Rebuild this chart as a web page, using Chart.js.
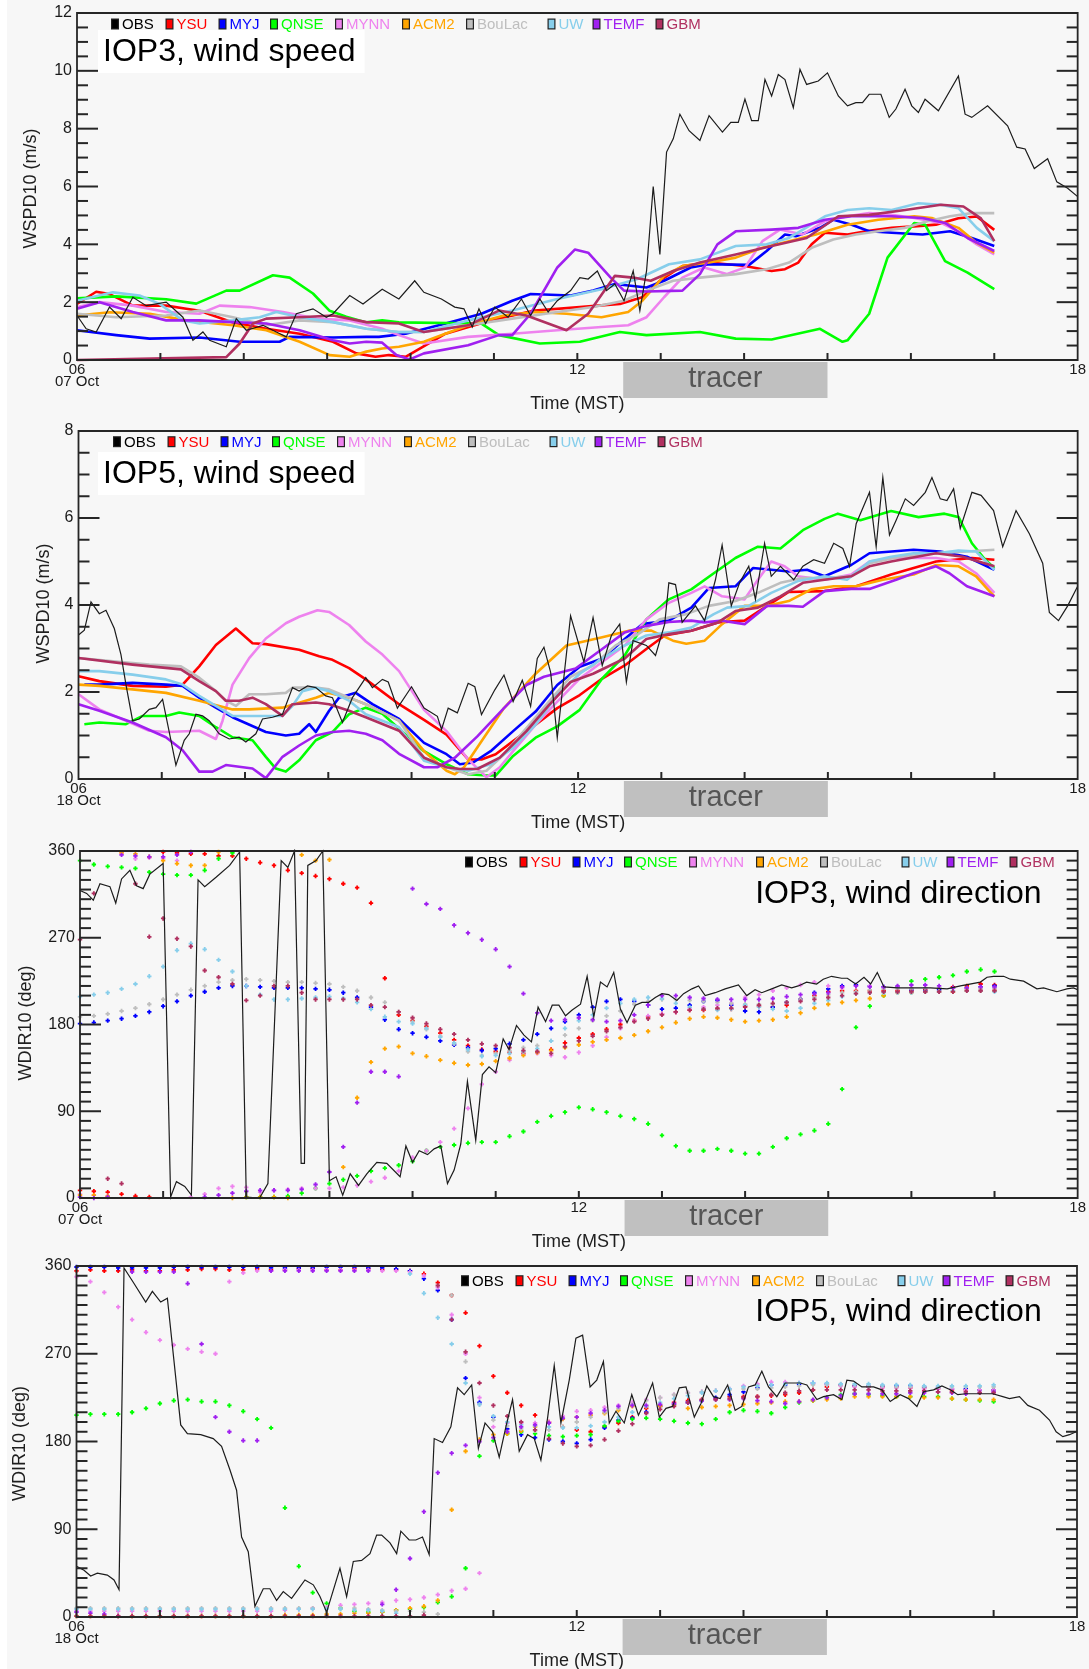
<!DOCTYPE html>
<html><head><meta charset="utf-8"><title>WRF PBL schemes vs OBS</title>
<script src="https://cdn.jsdelivr.net/npm/chart.js@4.4.1/dist/chart.umd.min.js"></script>
<style>
html,body{margin:0;padding:0;background:#f7f7f7}
body{width:1089px;height:1669px;position:relative;overflow:hidden}
#strip{position:absolute;left:0;top:0;width:7px;height:1669px;background:#fff}
canvas{position:absolute;left:0}
</style></head><body>
<div id="strip"></div>
<canvas id="c1" width="1089" height="418" style="top:0px"></canvas>
<canvas id="c2" width="1089" height="420" style="top:418px"></canvas>
<canvas id="c3" width="1089" height="414" style="top:838px"></canvas>
<canvas id="c4" width="1089" height="417" style="top:1252px"></canvas>
<script>
// ---------- series meta ----------
const seriesNames = ['OBS','YSU','MYJ','QNSE','MYNN','ACM2','BouLac','UW','TEMF','GBM'];
const seriesColors = ['#000000','#ff0000','#0000ff','#00ff00','#ee82ee','#ffa500','#bebebe','#87ceeb','#a020f0','#b03060'];
const hourTicks = [6,12,18];
const tracerWindow = [12.55, 15.0];
const dotStartHour = 6, dotStepHours = 1/6;   // model dots every 10 min

// ---------- IOP3 wind speed (hour, m/s) ----------
const p1Obs = [[6,1.54],[6.11,1.08],[6.23,0.97],[6.39,1.83],[6.53,1.43],[6.67,2.17],[6.83,1.88],[7.07,2.0],[7.27,1.48],[7.39,0.68],[7.51,0.97],[7.59,0.68],[7.79,0.46],[7.91,1.43],[8.03,1.03],[8.23,1.2],[8.39,0.97],[8.51,0.8],[8.63,1.6],[8.83,1.77],[8.99,1.48],[9.07,1.6],[9.27,2.23],[9.43,1.94],[9.66,2.45],[9.86,2.11],[10.05,2.74],[10.16,2.34],[10.37,2.11],[10.53,1.83],[10.64,1.77],[10.74,1.14],[10.82,1.77],[10.9,1.26],[11.01,1.83],[11.17,1.48],[11.33,2.11],[11.44,1.54],[11.55,2.11],[11.65,1.66],[11.76,2.05],[11.92,2.4],[12.03,2.85],[12.13,2.8],[12.24,3.08],[12.35,2.4],[12.45,2.63],[12.56,2.05],[12.67,3.08],[12.75,1.71],[12.83,3.08],[12.91,6.0],[12.99,3.65],[13.07,7.19],[13.15,7.65],[13.23,8.5],[13.34,7.93],[13.47,7.59],[13.58,8.45],[13.74,7.88],[13.84,8.22],[13.93,8.22],[14.01,9.02],[14.09,8.28],[14.17,8.28],[14.25,9.7],[14.33,9.13],[14.41,9.87],[14.49,9.7],[14.59,8.73],[14.67,10.05],[14.75,9.53],[14.89,9.65],[15.0,9.93],[15.13,9.13],[15.24,8.79],[15.34,8.9],[15.42,8.9],[15.5,9.19],[15.64,9.19],[15.74,8.39],[15.82,8.68],[15.93,9.36],[16.01,8.79],[16.09,8.56],[16.17,9.02],[16.33,8.62],[16.57,9.82],[16.65,8.5],[16.73,8.39],[16.92,8.79],[17.16,8.1],[17.27,7.36],[17.37,7.3],[17.48,6.62],[17.64,6.96],[17.75,6.16],[17.88,5.94],[18.0,5.65]];
const p1Ysu = [[6,1.94],[6.23,2.36],[6.39,2.28],[6.67,1.88],[7.07,1.88],[7.31,1.77],[7.47,1.7],[7.87,1.3],[8.27,1.08],[8.67,0.91],[9.07,0.63],[9.35,0.23],[9.58,0.11],[9.74,0.17],[9.94,0.11],[10.42,0.91],[10.96,1.37],[11.49,1.71],[12.03,1.83],[12.51,1.94],[12.78,2.17],[12.99,2.74],[13.26,3.25],[13.58,3.37],[14.01,3.25],[14.33,3.08],[14.49,3.14],[14.65,3.37],[14.81,4.0],[14.97,4.4],[15.24,4.34],[15.5,4.47],[15.77,4.57],[16.04,4.62],[16.3,4.68],[16.57,4.9],[16.79,4.96],[17,4.5]];
const p1Myj = [[6,1.03],[6.47,0.86],[6.87,0.74],[7.47,0.78],[7.95,0.63],[8.43,0.63],[8.55,0.8],[9.07,0.78],[9.47,0.8],[9.62,0.8],[9.94,0.91],[10.42,1.26],[10.85,1.6],[11.22,2.05],[11.44,2.28],[11.92,2.23],[12.19,2.4],[12.45,2.63],[12.83,2.51],[13.04,2.74],[13.36,3.2],[13.58,3.31],[14.06,3.29],[14.27,3.77],[14.49,4.34],[14.62,4.28],[14.91,4.57],[15.07,4.85],[15.29,4.68],[15.5,4.45],[15.77,4.4],[16.14,4.34],[16.47,4.45],[16.73,4.22],[17,3.94]];
const p1Qnse = [[6,2.13],[6.47,2.2],[7.07,2.1],[7.43,1.95],[7.79,2.4],[7.95,2.4],[8.35,2.93],[8.55,2.85],[8.83,2.3],[9.03,1.7],[9.23,1.5],[9.47,1.3],[9.66,1.37],[9.86,1.3],[10.85,1.26],[11.06,0.86],[11.55,0.57],[12.03,0.63],[12.51,0.97],[12.83,0.86],[13.47,0.97],[13.9,0.74],[14.33,0.71],[14.91,1.08],[15.18,0.63],[15.24,0.68],[15.5,1.6],[15.72,3.54],[16.04,4.74],[16.17,4.68],[16.41,3.42],[16.68,3.02],[17,2.45]];
const p1Mynn = [[6,1.83],[6.27,2.0],[6.67,1.88],[7.07,1.66],[7.47,1.6],[7.71,1.88],[8.07,1.83],[8.47,1.66],[8.87,1.43],[9.27,1.37],[9.66,1.08],[9.86,0.86],[10.16,0.57],[10.69,0.8],[11.22,0.91],[11.76,1.03],[12.29,1.14],[12.61,1.2],[12.83,1.48],[13.04,2.17],[13.26,2.85],[13.52,3.2],[13.79,2.97],[14.01,3.2],[14.22,4.11],[14.43,4.51],[14.7,4.34],[14.97,4.8],[15.24,4.97],[15.5,5.08],[15.77,5.02],[16.04,4.91],[16.36,4.74],[16.57,4.45],[16.79,4.0],[17,3.65]];
const p1Acm2 = [[6,1.54],[6.39,1.65],[6.87,1.6],[7.31,1.37],[7.87,1.2],[8.27,1.03],[8.67,0.63],[9.03,0.17],[9.27,0.11],[9.47,0.29],[9.66,0.4],[9.86,0.46],[10.16,0.63],[10.69,1.2],[11.12,1.54],[11.49,1.66],[11.87,1.6],[12.29,1.48],[12.61,1.66],[12.78,2.05],[13.04,2.91],[13.26,3.25],[13.58,3.37],[13.9,3.54],[14.22,3.88],[14.54,4.11],[14.86,4.34],[15.24,4.68],[15.61,4.85],[16.04,4.97],[16.25,4.91],[16.57,4.57],[16.79,4.05],[17,3.71]];
const p1BouLac = [[6,1.6],[6.47,1.48],[7.07,1.54],[7.47,1.71],[7.87,1.48],[8.27,1.2],[8.67,1.37],[9.07,1.31],[9.47,1.08],[9.86,0.97],[10.16,0.97],[10.69,1.2],[11.22,1.43],[11.76,1.66],[12.19,1.83],[12.56,2.05],[12.83,2.4],[13.15,2.74],[13.47,2.85],[13.9,2.97],[14.27,3.14],[14.54,3.37],[14.81,3.88],[15.07,4.17],[15.34,4.34],[15.61,4.45],[15.93,4.57],[16.2,4.8],[16.47,4.97],[16.73,5.08],[17,5.08]];
const p1Uw = [[6,2.05],[6.43,2.34],[6.75,2.23],[6.99,1.94],[7.27,1.37],[7.47,1.26],[7.87,1.37],[8.19,1.48],[8.39,1.66],[8.67,1.48],[9.07,1.31],[9.47,1.08],[9.86,0.97],[10.16,0.97],[10.69,1.37],[11.22,1.71],[11.76,2.11],[12.29,2.45],[12.72,2.8],[13.1,3.31],[13.47,3.48],[13.9,3.94],[14.27,4.0],[14.54,4.22],[14.97,4.97],[15.24,5.19],[15.5,5.25],[15.77,5.19],[16.09,5.42],[16.36,5.37],[16.57,5.25],[16.79,4.57],[17,4.11]];
const p1Temf = [[6,1.77],[6.27,2.0],[6.67,1.66],[7.07,1.37],[7.47,1.37],[7.87,1.31],[8.27,1.26],[8.67,1.03],[9.07,0.68],[9.27,0.57],[9.47,0.63],[9.66,0.6],[9.83,0.17],[9.99,0.02],[10.16,0.23],[10.69,0.51],[11.06,0.86],[11.22,0.86],[11.44,1.6],[11.76,3.2],[11.97,3.82],[12.13,3.71],[12.4,2.85],[12.56,2.4],[12.83,2.37],[13.26,2.4],[13.47,2.97],[13.68,4.0],[13.9,4.45],[14.33,4.51],[14.65,4.57],[14.97,4.85],[15.29,4.97],[15.77,4.97],[16.14,4.91],[16.41,4.74],[16.68,4.22],[17,3.77]];
const p1Gbm = [[6,0],[7.79,0.1],[7.95,0.57],[8.11,1.26],[8.27,1.43],[8.67,1.48],[9.07,1.54],[9.47,1.31],[9.86,1.26],[10.16,0.97],[10.69,1.2],[11.06,1.71],[11.39,1.54],[11.87,1.03],[12.13,1.6],[12.45,2.91],[12.67,2.85],[12.88,2.74],[13.15,3.08],[13.47,3.37],[13.9,3.65],[14.33,3.94],[14.75,4.22],[15.13,4.97],[15.5,5.02],[15.93,5.19],[16.36,5.37],[16.63,5.31],[16.84,4.9],[17,4.11]];

// ---------- IOP5 wind speed (hour, m/s) ----------
const p2Obs = [[6,3.31],[6.07,3.42],[6.15,4.07],[6.25,3.8],[6.33,3.88],[6.43,3.46],[6.51,2.86],[6.57,2.17],[6.65,1.34],[6.73,1.38],[6.85,1.6],[6.93,1.64],[7.01,1.83],[7.09,1.08],[7.17,0.32],[7.27,0.89],[7.33,1.04],[7.41,1.49],[7.49,1.45],[7.57,1.34],[7.69,1.04],[7.81,0.92],[7.93,0.96],[8.01,0.85],[8.13,1.04],[8.21,1.38],[8.33,1.42],[8.45,1.49],[8.57,2.1],[8.65,2.02],[8.75,2.14],[8.85,2.1],[8.97,1.91],[9.05,1.87],[9.17,1.3],[9.29,1.87],[9.37,2.1],[9.45,2.33],[9.53,2.1],[9.65,2.29],[9.72,2.23],[9.83,1.63],[10.0,2.12],[10.15,1.63],[10.31,1.44],[10.36,1.14],[10.44,1.63],[10.55,1.52],[10.68,2.2],[10.76,2.12],[10.84,1.48],[11.0,2.05],[11.11,2.39],[11.22,1.78],[11.33,2.27],[11.43,1.67],[11.51,2.77],[11.59,3.03],[11.67,2.46],[11.75,0.95],[11.91,3.75],[12.07,2.69],[12.18,3.71],[12.29,2.61],[12.4,3.3],[12.5,3.56],[12.58,2.23],[12.66,3.18],[12.82,3.07],[12.93,2.84],[13.04,3.56],[13.09,4.51],[13.17,4.47],[13.25,3.6],[13.41,3.98],[13.52,3.64],[13.65,4.58],[13.73,5.38],[13.84,3.98],[13.94,4.51],[14.05,4.89],[14.13,4.13],[14.24,5.42],[14.32,4.66],[14.43,4.89],[14.59,4.58],[14.7,4.89],[14.83,5.04],[14.96,4.96],[15.07,5.42],[15.18,5.3],[15.26,4.89],[15.34,5.87],[15.5,6.59],[15.58,5.34],[15.66,6.93],[15.74,5.61],[15.82,5.95],[15.93,6.44],[16.03,6.29],[16.17,6.59],[16.25,6.93],[16.35,6.44],[16.43,6.4],[16.51,6.67],[16.59,5.76],[16.73,6.59],[16.84,6.52],[16.99,6.17],[17.1,5.34],[17.26,6.17],[17.42,5.64],[17.58,4.96],[17.66,3.83],[17.77,3.64],[17.88,3.98],[18,4.43]];
const p2Ysu = [[6,2.36],[6.25,2.25],[6.65,2.14],[7.05,2.12],[7.25,2.17],[7.45,2.59],[7.65,3.08],[7.89,3.46],[8.09,3.12],[8.25,3.1],[8.65,2.97],[8.89,2.82],[9.05,2.74],[9.25,2.55],[9.45,2.29],[9.85,1.72],[10.15,1.36],[10.42,1.02],[10.68,0.45],[10.84,0.45],[11.01,0.57],[11.22,0.87],[11.49,1.25],[11.75,1.63],[12.02,1.93],[12.29,2.31],[12.56,2.61],[12.82,2.99],[13.04,3.3],[13.36,3.41],[13.68,3.6],[14.0,3.64],[14.27,3.98],[14.53,4.3],[14.96,4.32],[15.34,4.43],[15.76,4.7],[16.3,5.0],[16.73,5.08],[17,5.04]];
const p2Myj = [[6.07,2.17],[6.25,2.17],[6.65,2.21],[7.05,2.17],[7.25,2.14],[7.45,1.87],[7.65,1.64],[7.85,1.42],[8.25,1.08],[8.49,1.0],[8.65,1.04],[8.77,1.26],[8.85,1.08],[9.01,1.57],[9.13,1.87],[9.33,1.98],[9.53,1.72],[9.85,1.38],[10.15,0.83],[10.42,0.57],[10.58,0.34],[10.74,0.38],[10.95,0.64],[11.22,1.1],[11.49,1.55],[11.75,2.16],[12.02,2.58],[12.29,2.77],[12.56,3.22],[12.77,3.56],[13.09,3.64],[13.36,3.94],[13.57,4.39],[13.89,4.43],[14.1,4.85],[14.32,4.81],[14.53,4.77],[14.75,4.81],[14.96,4.66],[15.28,4.92],[15.5,5.19],[16.03,5.27],[16.35,5.23],[16.67,5.11],[17,4.81]];
const p2Qnse = [[6.07,1.26],[6.25,1.3],[6.57,1.26],[6.77,1.45],[7.05,1.45],[7.21,1.53],[7.45,1.45],[7.65,1.19],[7.85,0.96],[8.09,0.89],[8.25,0.51],[8.37,0.24],[8.49,0.17],[8.65,0.43],[8.85,0.89],[9.05,1.08],[9.25,1.49],[9.45,1.64],[9.65,1.5],[10.15,0.64],[10.42,0.34],[10.68,0.11],[10.9,0.08],[11.01,0.08],[11.22,0.53],[11.49,0.95],[11.75,1.21],[12.02,1.59],[12.29,2.31],[12.56,2.84],[12.82,3.67],[13.09,4.13],[13.36,4.36],[13.63,4.73],[13.89,5.08],[14.16,5.34],[14.43,5.3],[14.7,5.72],[14.96,5.98],[15.12,6.1],[15.39,5.95],[15.76,6.16],[16.09,6.02],[16.4,6.1],[16.57,6.02],[16.73,5.42],[16.89,5.04],[17,4.85]];
const p2Mynn = [[6,1.95],[6.25,1.6],[6.57,1.34],[6.85,1.11],[7.05,1.08],[7.45,1.11],[7.65,0.92],[7.73,1.34],[7.85,2.17],[8.05,2.78],[8.25,3.23],[8.49,3.58],[8.65,3.73],[8.87,3.88],[9.01,3.84],[9.25,3.54],[9.45,3.16],[9.65,2.86],[9.85,2.48],[10.15,1.59],[10.42,1.1],[10.68,0.45],[10.9,0.04],[11.06,0.27],[11.22,0.64],[11.49,1.25],[11.75,1.78],[12.02,2.31],[12.29,2.69],[12.56,3.07],[12.82,3.67],[13.09,4.05],[13.36,4.28],[13.52,4.43],[13.73,4.2],[14.0,4.13],[14.16,4.58],[14.32,5.0],[14.48,4.89],[14.64,4.66],[14.96,4.58],[15.28,4.7],[15.5,5.0],[15.76,5.08],[16.3,5.08],[16.57,5.0],[16.78,4.73],[17,4.28]];
const p2Acm2 = [[6,2.17],[6.25,2.14],[6.65,2.06],[7.05,1.98],[7.45,1.8],[7.85,1.6],[8.05,1.6],[8.45,1.64],[8.85,1.87],[9.01,1.98],[9.25,1.87],[9.45,1.72],[9.85,1.34],[10.15,0.64],[10.42,0.19],[10.52,0.11],[10.63,0.27],[10.84,0.87],[11.11,1.63],[11.49,2.42],[11.86,3.07],[12.29,3.26],[12.61,3.41],[12.88,3.41],[13.14,3.18],[13.3,3.11],[13.52,3.18],[13.73,3.56],[14.0,3.98],[14.27,3.98],[14.53,4.09],[14.8,4.36],[15.07,4.43],[15.34,4.43],[15.66,4.58],[16.03,4.7],[16.3,4.92],[16.57,4.89],[16.78,4.66],[16.94,4.32],[17,4.2]];
const p2BouLac = [[6,2.78],[6.45,2.7],[6.85,2.63],[7.23,2.59],[7.45,2.33],[7.65,2.02],[7.77,1.8],[7.89,1.68],[8.05,1.95],[8.25,1.95],[8.49,1.98],[8.57,2.1],[8.85,2.1],[9.01,2.06],[9.25,1.87],[9.45,1.72],[9.85,1.34],[10.15,0.49],[10.42,0.27],[10.68,0.11],[10.9,0.19],[11.11,0.57],[11.38,1.17],[11.65,1.78],[11.91,2.35],[12.18,2.61],[12.45,3.07],[12.72,3.33],[12.98,3.67],[13.3,3.79],[13.57,3.98],[13.89,4.09],[14.16,4.28],[14.43,4.51],[14.7,4.62],[14.96,4.62],[15.28,4.66],[15.5,4.96],[15.87,5.11],[16.3,5.19],[16.67,5.23],[17,5.27]];
const p2Uw = [[6,2.48],[6.25,2.48],[6.65,2.4],[7.05,2.29],[7.25,2.17],[7.45,1.91],[7.65,1.68],[7.85,1.45],[8.05,1.45],[8.45,1.45],[8.57,1.68],[8.69,2.02],[8.85,2.1],[9.01,2.02],[9.25,1.8],[9.45,1.49],[9.85,1.19],[10.15,0.42],[10.42,0.27],[10.68,0.19],[10.95,0.34],[11.22,0.72],[11.49,1.25],[11.75,1.93],[12.02,2.42],[12.29,2.77],[12.56,3.07],[12.82,3.3],[13.09,3.37],[13.36,3.48],[13.63,3.79],[13.79,3.94],[14.05,3.98],[14.32,4.28],[14.64,4.55],[14.96,4.66],[15.23,4.58],[15.5,5.0],[15.76,5.11],[16.03,5.19],[16.3,5.19],[16.57,5.25],[16.78,5.23],[17,4.81]];
const p2Temf = [[6,1.72],[6.25,1.57],[6.65,1.3],[7.05,0.96],[7.25,0.66],[7.45,0.17],[7.61,0.17],[7.77,0.32],[7.93,0.28],[8.09,0.24],[8.25,0.02],[8.45,0.51],[8.65,0.77],[8.85,1.0],[9.05,1.08],[9.25,1.11],[9.45,1.04],[9.65,0.89],[9.85,0.58],[10.15,0.27],[10.31,0.27],[10.52,0.49],[10.79,0.98],[11.11,1.63],[11.38,2.16],[11.59,2.35],[11.97,2.54],[12.29,2.99],[12.56,3.37],[12.82,3.52],[13.09,3.61],[13.36,3.64],[13.52,3.6],[13.73,3.64],[14.0,3.56],[14.27,3.98],[14.53,3.98],[14.7,3.96],[14.96,4.32],[15.28,4.37],[15.5,4.37],[15.82,4.58],[16.03,4.73],[16.3,4.89],[16.46,4.73],[16.67,4.43],[17,4.2]];
const p2Gbm = [[6,2.78],[6.65,2.63],[7.23,2.52],[7.45,2.25],[7.65,2.02],[7.77,1.8],[7.93,1.8],[8.09,1.87],[8.25,1.72],[8.45,1.45],[8.57,1.72],[8.85,1.76],[9.01,1.72],[9.25,1.57],[9.45,1.42],[9.85,1.11],[10.15,0.49],[10.42,0.27],[10.58,0.23],[10.79,0.23],[11.06,0.49],[11.38,1.1],[11.65,1.7],[11.91,2.23],[12.18,2.42],[12.56,2.77],[12.82,3.22],[13.09,3.33],[13.36,3.41],[13.68,3.6],[13.89,3.86],[14.16,3.94],[14.43,4.2],[14.7,4.51],[14.96,4.58],[15.28,4.66],[15.5,4.89],[15.76,5.0],[16.3,5.19],[16.62,5.11],[17,4.89]];

// ---------- IOP3 wind direction: OBS (hour, deg), models every 10 min from 06:00 ----------
const p3Obs = [[6.0,319],[6.08,316],[6.16,309],[6.24,326],[6.36,323],[6.43,306],[6.5,331],[6.6,340],[6.68,324],[6.76,321],[6.84,336],[7.0,347],[7.09,1],[7.16,17],[7.26,12],[7.34,3],[7.42,330],[7.5,323],[7.64,333],[7.8,345],[7.92,359],[8.0,1],[8.16,0],[8.26,15],[8.42,350],[8.5,343],[8.58,360],[8.66,36],[8.7,36],[8.74,345],[8.84,350],[8.92,360],[9.0,18],[9.08,22],[9.16,3],[9.25,25],[9.35,13],[9.45,25],[9.57,37],[9.69,36],[9.85,22],[9.92,54],[10.0,37],[10.08,49],[10.18,45],[10.26,51],[10.34,54],[10.42,15],[10.5,29],[10.58,56],[10.66,121],[10.76,60],[10.84,128],[10.92,136],[11.0,130],[11.09,165],[11.16,154],[11.25,179],[11.34,169],[11.43,162],[11.51,198],[11.6,183],[11.68,200],[11.76,200],[11.84,189],[11.92,195],[12.02,201],[12.1,230],[12.18,188],[12.26,224],[12.34,219],[12.42,234],[12.5,196],[12.58,182],[12.68,200],[12.76,203],[12.84,203],[12.92,208],[13.0,212],[13.08,211],[13.18,205],[13.26,212],[13.36,217],[13.44,220],[13.52,210],[13.64,213],[13.76,217],[13.92,221],[14.02,210],[14.12,216],[14.2,213],[14.32,217],[14.44,221],[14.56,218],[14.64,220],[14.74,224],[14.86,222],[14.94,227],[15.04,230],[15.16,228],[15.23,228],[15.33,222],[15.43,229],[15.51,222],[15.59,234],[15.67,219],[15.83,218],[16.03,218],[16.23,218],[16.43,217],[16.59,220],[16.83,224],[16.91,229],[16.99,230],[17.11,230],[17.19,227],[17.35,225],[17.51,217],[17.59,218],[17.75,214],[17.87,217],[17.95,218],[18.0,216]];
const p3Ysu = [8,7,6,4,2,1,359,358,357,357,355,355,352,348,345,340,337,334,331,326,322,306,228,190,184,178,171,164,158,154,152,151,150,151,154,161,166,170,175,180,184,188,191,193,195,195,196,196,199,199,198,200,206,210,214,215,215,215,215,215,215,216,217,219,220,222,221];
const p3Myj = [181,182,184,186,189,193,199,204,210,214,218,220,220,219,218,218,218,217,216,213,208,198,185,175,171,167,163,159,156,153,155,160,164,170,176,183,190,198,204,206,204,200,196,197,200,204,205,200,194,193,198,203,206,213,217,220,221,220,219,219,216,215,216,218,218,219,220];
const p3Qnse = [350,346,344,343,342,338,336,335,335,340,352,358,1,1,1,2,5,10,15,19,23,28,31,34,38,49,53,55,57,58,58,64,69,79,85,89,94,92,89,85,82,77,65,54,49,49,51,49,46,46,53,62,66,70,77,113,177,199,210,219,225,227,229,231,235,237,235];
const p3Mynn = [4,3,2,358,352,353,352,350,1,4,10,12,11,6,8,9,10,10,10,11,13,17,21,28,42,49,58,72,93,118,131,143,149,150,148,146,151,158,167,176,184,189,191,193,196,198,200,202,208,211,215,218,221,224,220,218,220,220,218,219,218,218,218,218,217,217,217];
const p3Acm2 = [3,3,2,358,357,354,350,347,345,345,359,0,1,1,1,0,356,350,351,32,104,141,155,157,150,147,143,140,138,139,142,145,148,151,153,156,159,162,164,166,169,173,177,182,186,188,187,185,183,184,185,188,192,197,201,203,205,207,210,213,213,214,214,214,215,215,215];
const p3BouLac = [188,189,191,194,197,201,206,211,216,220,224,226,227,226,225,224,224,223,222,219,215,208,203,193,183,175,168,160,152,148,150,153,156,158,163,169,176,184,189,194,201,204,206,206,205,204,203,202,201,201,201,203,206,208,211,213,214,216,217,217,217,218,218,218,218,218,218];
const p3Uw = [209,211,213,217,222,230,240,257,264,258,247,235,220,211,206,206,207,208,209,207,203,196,188,183,181,176,167,161,154,147,148,150,152,155,163,176,184,190,197,202,206,208,207,202,198,196,195,196,200,198,196,194,197,202,205,209,212,213,213,213,213,214,214,215,215,215,214];
const p3Temf = [1,0,1,356,355,354,354,356,359,1,3,5,7,8,8,8,9,14,27,53,99,131,131,126,321,305,300,283,275,268,258,240,212,192,184,185,187,185,183,184,190,200,210,210,208,207,206,206,206,206,207,209,211,212,213,219,220,219,219,220,221,221,220,218,218,219,219];
const p3Gbm = [268,316,20,15,326,271,290,269,261,236,229,222,205,210,220,220,213,206,206,206,206,200,198,193,187,181,175,170,164,160,158,156,153,152,150,157,163,168,173,177,183,186,190,193,195,196,197,197,198,200,202,203,204,206,208,210,212,213,214,214,214,214,214,214,215,215,215];

// ---------- IOP5 wind direction ----------
const p4Obs = [[6.0,52],[6.09,48],[6.17,42],[6.25,45],[6.37,43],[6.45,38],[6.51,28],[6.57,358],[6.69,342],[6.83,323],[6.91,334],[7.01,323],[7.09,327],[7.25,197],[7.33,188],[7.49,187],[7.64,183],[7.74,175],[7.84,151],[7.92,130],[7.98,82],[8.06,67],[8.14,11],[8.24,29],[8.32,29],[8.4,17],[8.48,26],[8.58,19],[8.74,38],[8.84,33],[8.92,21],[9.0,5],[9.16,50],[9.24,21],[9.32,57],[9.42,58],[9.52,65],[9.6,84],[9.66,84],[9.76,76],[9.84,65],[9.89,88],[9.99,79],[10.07,79],[10.15,82],[10.23,64],[10.29,183],[10.39,179],[10.49,195],[10.57,235],[10.65,228],[10.74,238],[10.82,173],[10.9,199],[10.99,190],[11.07,164],[11.15,195],[11.23,223],[11.31,170],[11.41,187],[11.49,183],[11.57,161],[11.65,204],[11.73,258],[11.81,199],[11.91,243],[11.99,286],[12.07,289],[12.16,236],[12.24,243],[12.32,262],[12.39,199],[12.47,211],[12.57,199],[12.66,228],[12.74,207],[12.83,223],[12.91,240],[12.99,205],[13.07,214],[13.15,216],[13.23,235],[13.31,236],[13.41,205],[13.49,219],[13.56,237],[13.64,226],[13.72,224],[13.81,238],[13.9,212],[13.98,216],[14.06,236],[14.14,238],[14.22,252],[14.3,236],[14.4,226],[14.5,240],[14.58,240],[14.68,240],[14.76,238],[14.88,223],[14.96,226],[15.08,228],[15.18,223],[15.24,243],[15.32,242],[15.42,236],[15.56,236],[15.66,233],[15.76,221],[15.88,228],[15.98,224],[16.08,216],[16.16,231],[16.28,233],[16.38,237],[16.48,233],[16.57,228],[16.67,229],[16.87,229],[16.99,229],[17.11,226],[17.19,224],[17.31,226],[17.41,217],[17.55,212],[17.67,202],[17.75,190],[17.83,185],[17.91,187],[17.99,190]];
const p4Ysu = [355,356,355,355,356,355,355,356,356,357,357,356,356,357,356,356,357,357,356,356,357,357,356,356,355,352,343,330,312,278,247,230,217,207,200,195,192,190,195,199,205,214,217,220,222,223,224,226,226,226,227,228,230,233,236,238,237,236,236,236,235,235,234,233,233,233,233];
const p4Myj = [359,359,359,358,358,358,358,359,359,359,359,359,359,359,358,358,358,358,359,359,359,358,358,357,355,347,335,305,245,220,205,193,187,184,182,180,178,182,194,202,204,210,216,218,220,222,225,228,231,235,238,238,239,240,239,238,237,237,237,237,237,236,235,234,234,233,233];
const p4Qnse = [207,208,208,208,210,214,219,222,223,221,221,217,211,203,194,112,52,25,14,9,6,5,5,7,8,10,15,21,50,165,181,188,190,188,186,185,186,187,196,201,203,204,203,201,199,198,203,210,212,211,209,215,220,222,225,228,229,228,227,226,226,226,226,224,223,222,221];
const p4Mynn = [349,344,333,318,305,292,284,279,275,272,270,344,353,355,355,356,356,356,356,356,356,356,355,355,354,350,338,310,270,225,195,199,199,199,200,206,211,212,215,217,220,223,225,228,230,231,232,234,237,239,241,241,240,239,238,237,236,236,235,235,235,234,234,234,233,233,233];
const p4MynnLow = [6,6,6,6,6,6,6,6,6,6,6,6,6,6,6,7,8,9,10,12,13,14,15,17,18,20,23,27,29,45];
const p4Acm2 = [1,1,1,1,1,1,1,1,1,1,1,1,1,1,1,2,2,2,3,3,4,4,5,7,9,11,17,110,170,182,187,188,191,195,199,203,205,207,209,212,216,216,216,217,214,215,216,217,218,219,220,221,221,222,223,224,226,226,226,226,226,225,225,224,223,223,223];
const p4BouLac = [9,9,9,9,9,9,9,9,9,9,9,9,9,9,9,9,9,9,9,9,9,8,7,6,6,5,3,330,262,218,202,196,193,191,192,195,200,205,210,214,218,222,225,228,230,231,232,233,234,234,235,236,237,238,238,238,238,237,237,236,236,236,236,236,236,236,236];
const p4Uw = [8,8,8,8,8,8,8,8,8,8,8,8,8,8,8,8,8,8,8,8,7,7,6,4,352,332,307,280,240,218,206,200,197,196,195,194,194,196,200,205,210,216,220,224,227,230,232,234,236,237,238,239,240,240,240,239,239,239,238,238,238,237,237,237,237,237,238];
const p4Temf = [5,4,3,1,354,354,354,354,342,280,205,190,181,181,355,355,355,355,355,355,355,355,13,28,60,108,148,168,176,180,184,190,195,197,199,204,205,209,212,216,217,217,218,219,220,222,223,223,224,222,221,219,221,223,225,227,229,229,229,229,230,230,231,230,229,230,231];
const p4Gbm = [1,1,1,1,1,1,1,1,1,1,1,1,1,1,1,1,1,1,1,1,1,1,1,1,1,2,340,305,272,240,217,206,200,192,183,178,175,176,182,191,198,209,213,216,220,223,223,224,225,226,228,230,232,233,233,233,233,233,232,232,232,232,231,231,231,230,230];

// ---------- helpers ----------
const FONT = "'Liberation Sans', Arial, Helvetica, sans-serif";
Chart.defaults.font.family = FONT;
const legendOffsets = [0,54.5,107.5,159,224,291,355,436.5,481.5,544.5];

function pairPts(a){ return a.map(p => ({x:p[0], y:p[1]})); }
function dotPts(a, start){ const s = (start==null)?dotStartHour:start; const out=[]; a.forEach((v,i)=>{ if(v!=null) out.push({x:s+i*dotStepHours, y:v}); }); return out; }

function buildDatasets(kind, obs, models, extras){
  const ds = [{label:'OBS', data:pairPts(obs), borderColor:'#1c1c1c', borderWidth:1.2, pointRadius:0, tension:0, order:0, clip:2}];
  models.forEach((m,k)=>{
    const c = seriesColors[k+1];
    if(kind==='line'){
      ds.push({label:seriesNames[k+1], data:pairPts(m), borderColor:c, borderWidth:2.6, pointRadius:0, tension:0, order:10-(k+1), borderJoinStyle:'round', clip:3});
    } else {
      ds.push({label:seriesNames[k+1], data:dotPts(m), showLine:false, pointStyle:'cross', pointRadius:2.2, pointBorderWidth:1.8, pointBorderColor:c, pointBackgroundColor:c, borderColor:c, order:10-(k+1), clip:4});
    }
  });
  (extras||[]).forEach(e=>{
    const c = seriesColors[e.k];
    ds.push({label:seriesNames[e.k]+'_b', data:dotPts(e.vals, e.start), showLine:false, pointStyle:'cross', pointRadius:2.2, pointBorderWidth:1.8, pointBorderColor:c, pointBackgroundColor:c, borderColor:c, order:10-e.k, clip:4});
  });
  return ds;
}

function makeDeco(p){
  const majEvery = Math.round(p.major / p.minor);
  const nMinor = Math.round(p.ymax / p.minor);
  return {
    id:'deco' + p.id,
    afterDraw(chart){
      const ctx = chart.ctx, a = chart.chartArea;
      const xs = chart.scales.x, ys = chart.scales.y;
      ctx.save();
      // inward ticks on left/right axes (major long, minor short) + hourly ticks
      ctx.strokeStyle = '#262626';
      ctx.lineWidth = 2;
      for(let j = 0; j <= nMinor; j++){
        const py = ys.getPixelForValue(j * p.minor);
        const len = (j % majEvery === 0) ? 21 : 11;
        ctx.beginPath(); ctx.moveTo(a.left, py); ctx.lineTo(a.left + len, py); ctx.stroke();
        ctx.beginPath(); ctx.moveTo(a.right, py); ctx.lineTo(a.right - len, py); ctx.stroke();
      }
      for(let h = 7; h < 18; h++){
        const px = xs.getPixelForValue(h);
        ctx.beginPath(); ctx.moveTo(px, a.bottom); ctx.lineTo(px, a.bottom - 7); ctx.stroke();
      }
      // frame
      ctx.lineWidth = 1.8;
      ctx.beginPath();
      ctx.rect(a.left, a.top, a.right - a.left, a.bottom - a.top);
      ctx.stroke();
      // panel title
      ctx.font = '32px ' + FONT; ctx.textBaseline = 'middle';
      const ty = p.titleY - p.top;
      const tw = ctx.measureText(p.title).width;
      if(p.titleBox){
        ctx.fillStyle = '#ffffff';
        ctx.fillRect(p.titleX - 5, ty - 21.5, tw + 14, 43);
      }
      ctx.fillStyle = '#000';
      ctx.textAlign = p.titleAlign;
      ctx.fillText(p.title, p.titleX, ty + 1);
      // legend
      ctx.font = '15px ' + FONT; ctx.textAlign = 'left';
      const ly = p.legY - p.top;
      seriesNames.forEach((nm,i)=>{
        const lx = p.legX + legendOffsets[i];
        ctx.fillStyle = '#222'; ctx.fillRect(lx, ly - 5.5, 8, 11);
        ctx.fillStyle = seriesColors[i]; ctx.fillRect(lx + 1.2, ly - 4.3, 5.6, 8.6);
        ctx.fillText(nm, lx + 11, ly + 1);
      });
      // y-axis title
      ctx.save();
      ctx.translate(p.ytx, p.yty - p.top); ctx.rotate(-Math.PI/2);
      ctx.font = '18px ' + FONT; ctx.fillStyle = '#1e1e1e'; ctx.textAlign = 'center'; ctx.textBaseline = 'middle';
      ctx.fillText(p.ytitle, 0, 0);
      ctx.restore();
      // x-axis title
      ctx.font = '18px ' + FONT; ctx.fillStyle = '#1e1e1e'; ctx.textAlign = 'center'; ctx.textBaseline = 'middle';
      ctx.fillText('Time (MST)', (a.left + a.right)/2, a.bottom + 44);
      // tracer window
      const x0 = xs.getPixelForValue(tracerWindow[0]), x1 = xs.getPixelForValue(tracerWindow[1]);
      ctx.fillStyle = '#c0c0c0';
      ctx.fillRect(x0, a.bottom + 2, x1 - x0, 36);
      ctx.font = '29px ' + FONT; ctx.fillStyle = '#555555'; ctx.textAlign = 'center'; ctx.textBaseline = 'middle';
      ctx.fillText('tracer', (x0 + x1)/2, a.bottom + 19);
      ctx.restore();
    }
  };
}

function makePanel(p){
  const canvas = document.getElementById(p.id);
  const H = canvas.height;
  new Chart(canvas, {
    type:'line',
    data:{datasets: p.datasets},
    options:{
      responsive:false, animation:false, devicePixelRatio:1,
      layout:{padding:{top:p.T - p.top, right:1089 - p.R, left:0, bottom:0}},
      plugins:{legend:{display:false}, tooltip:{enabled:false}},
      scales:{
        x:{type:'linear', min:6, max:18,
           grid:{display:false, drawTicks:false}, border:{display:false},
           afterFit:(s)=>{ s.height = H - (p.B - p.top); },
           afterBuildTicks:(s)=>{ s.ticks = hourTicks.map(v=>({value:v})); },
           ticks:{autoSkip:false, maxRotation:0, padding:3, color:'#1a1a1a', font:{size:15, lineHeight:0.85},
                  callback:(v)=> v===6 ? ['06', p.date] : String(v)}},
        y:{type:'linear', min:0, max:p.ymax,
           grid:{display:false, drawTicks:false}, border:{display:false},
           afterFit:(s)=>{ s.width = p.L; },
           ticks:{stepSize:p.major, padding:5, color:'#1a1a1a', font:{size:16, lineHeight:1.0}}}
      }
    },
    plugins:[makeDeco(p)]
  });
}

const panels = [
  {id:'c1', top:0, L:77, R:1079, T:9.6, B:360, ymax:12, major:2, minor:0.5, ytitle:'WSPD10 (m/s)', ytx:31.5, yty:188.5, date:'07 Oct',
   title:'IOP3, wind speed', titleBox:true, titleAlign:'left', titleX:103, titleY:51.5, legX:111, legY:24,
   datasets: buildDatasets('line', p1Obs, [p1Ysu,p1Myj,p1Qnse,p1Mynn,p1Acm2,p1BouLac,p1Uw,p1Temf,p1Gbm])},
  {id:'c2', top:418, L:78.5, R:1079.5, T:427, B:779, ymax:8, major:2, minor:0.5, ytitle:'WSPD10 (m/s)', ytx:44, yty:603.5, date:'18 Oct',
   title:'IOP5, wind speed', titleBox:true, titleAlign:'left', titleX:103, titleY:473.5, legX:113, legY:441.7,
   datasets: buildDatasets('line', p2Obs, [p2Ysu,p2Myj,p2Qnse,p2Mynn,p2Acm2,p2BouLac,p2Uw,p2Temf,p2Gbm])},
  {id:'c3', top:838, L:80, R:1080, T:847, B:1198, ymax:360, major:90, minor:10, ytitle:'WDIR10 (deg)', ytx:26, yty:1023, date:'07 Oct',
   title:'IOP3, wind direction', titleBox:false, titleAlign:'right', titleX:1041.5, titleY:893, legX:465, legY:862,
   datasets: buildDatasets('dots', p3Obs, [p3Ysu,p3Myj,p3Qnse,p3Mynn,p3Acm2,p3BouLac,p3Uw,p3Temf,p3Gbm])},
  {id:'c4', top:1252, L:76.5, R:1077, T:1266, B:1617, ymax:360, major:90, minor:10, ytitle:'WDIR10 (deg)', ytx:20, yty:1443.5, date:'18 Oct',
   title:'IOP5, wind direction', titleBox:false, titleAlign:'right', titleX:1041.7, titleY:1311, legX:461, legY:1280.7,
   datasets: buildDatasets('dots', p4Obs, [p4Ysu,p4Myj,p4Qnse,p4Mynn,p4Acm2,p4BouLac,p4Uw,p4Temf,p4Gbm], [{k:4, start:6, vals:p4MynnLow}])}
];
panels.forEach(makePanel);
</script>
</body></html>
